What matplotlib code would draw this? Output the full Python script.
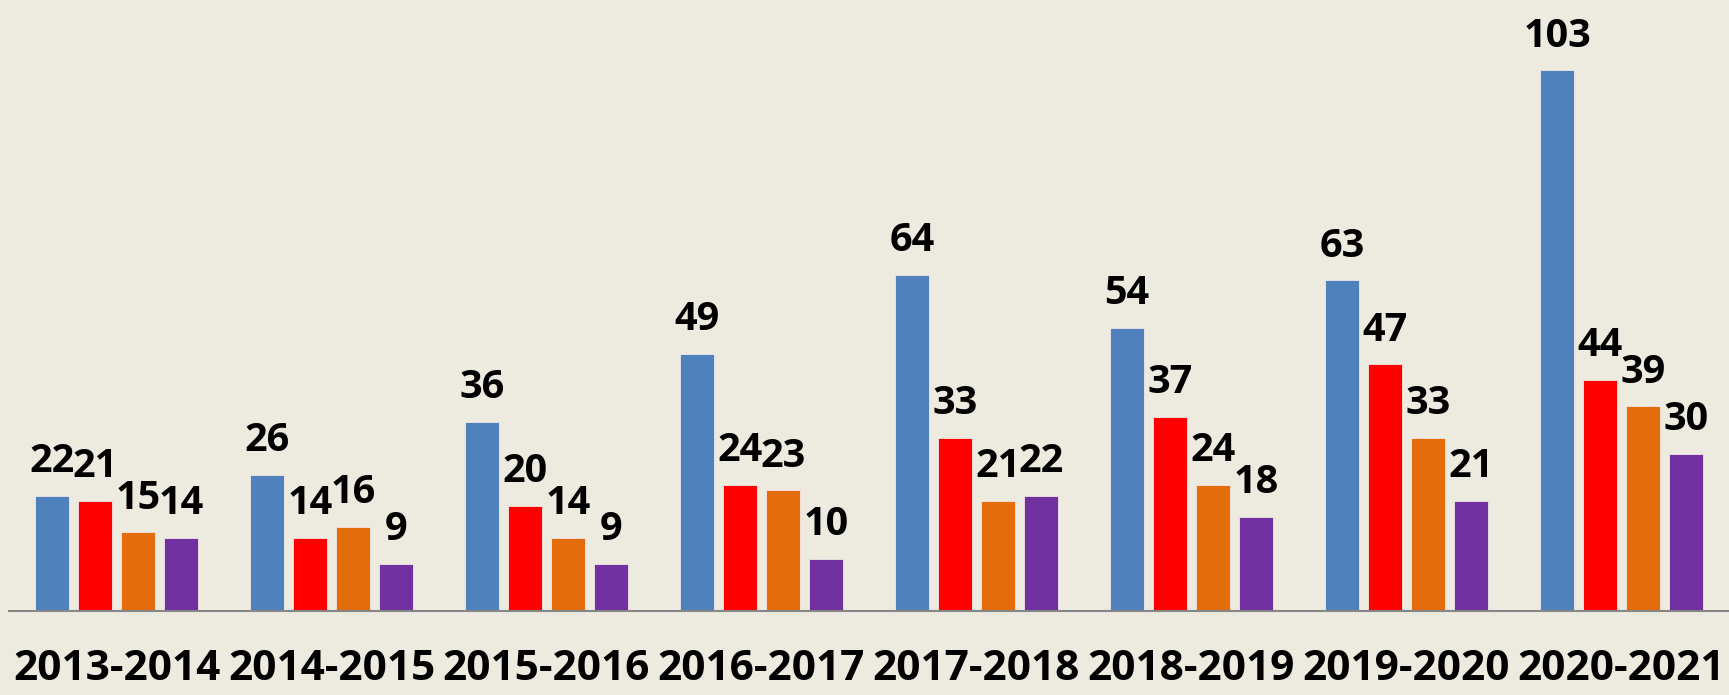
import numpy as np
import matplotlib
matplotlib.use("Agg")
import matplotlib.pyplot as plt

years = ["2013-2014", "2014-2015", "2015-2016", "2016-2017",
         "2017-2018", "2018-2019", "2019-2020", "2020-2021"]
blue = [22, 26, 36, 49, 64, 54, 63, 103]
red = [21, 14, 20, 24, 33, 37, 47, 44]
orange = [15, 16, 14, 23, 21, 24, 33, 39]
purple = [14, 9, 9, 10, 22, 18, 21, 30]

series = [blue, red, orange, purple]
colors = ["#4F81BD", "#FF0000", "#E46C0A", "#7030A0"]
bg = "#EDEBE0"

plt.rcParams["font.family"] = ["Open Sans", "DejaVu Sans"]

fig = plt.figure(figsize=(17.29, 6.95), dpi=100, facecolor=bg)
ax = fig.add_axes([9 / 1729, 84 / 695, 1720 / 1729, 611 / 695])
ax.set_facecolor(bg)

x = np.arange(len(years))
width = 0.16
offsets = [-0.3, -0.1, 0.1, 0.3]
for vals, col, off in zip(series, colors, offsets):
    bars = ax.bar(x + off, vals, width, color=col, edgecolor="#F2E6E6", linewidth=0.6)
    for b, v in zip(bars, vals):
        ax.annotate(str(v), (b.get_x() + b.get_width() / 2, b.get_height()),
                    xytext=(0, 10.5), textcoords="offset points",
                    ha="center", va="bottom", fontsize=28.5, fontweight="bold",
                    color="black")

ax.set_xlim(-0.5, len(years) - 0.5)
ax.set_ylim(0, 116.4)
ax.set_xticks(x)
ax.set_xticklabels(years, fontsize=30.5, fontweight="bold")
ax.tick_params(axis="x", length=0, pad=27)
ax.set_yticks([])
for s in ["top", "right", "left"]:
    ax.spines[s].set_visible(False)
ax.spines["bottom"].set_color("#868686")
ax.spines["bottom"].set_linewidth(1.5)

fig.savefig("out.png", dpi=100, facecolor=bg)
